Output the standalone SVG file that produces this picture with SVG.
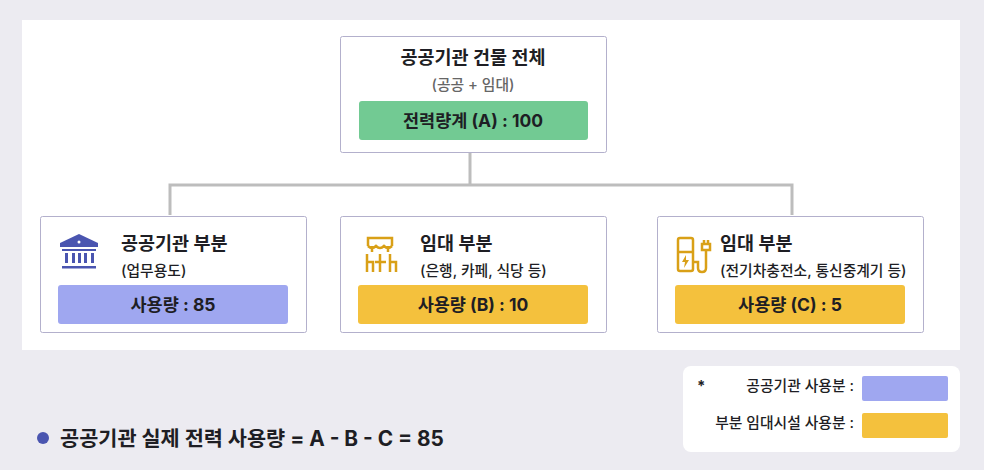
<svg xmlns="http://www.w3.org/2000/svg" width="984" height="470" viewBox="0 0 984 470">
<style>
text{font-family:Inter,"Noto Sans CJK KR","Noto Sans",sans-serif;fill:#1e1e24}
.t{font-size:18.5px;font-weight:700}
.s{font-size:14.8px;font-weight:500}
.b{font-size:17.5px;font-weight:700;text-anchor:middle}
.node{fill:#fff;stroke:#b3b0cc;stroke-width:1}
.conn{fill:none;stroke:#bdbdbd;stroke-width:3}
</style>
<rect width="984" height="470" fill="#ecebf1"/>
<rect x="22" y="20" width="938" height="330" fill="#fff"/>
<g id="connectors">
<path class="conn" d="M470 152V185M170 215V185H792V215"/>
</g>
<g id="top">
<rect class="node" x="340.5" y="36.5" width="266" height="116" rx="2"/>
<text class="t" x="473" y="64" text-anchor="middle">공공기관 건물 전체</text>
<text class="s" x="473" y="90" text-anchor="middle" style="fill:#666">(공공 + 임대)</text>
<rect x="359" y="101" width="229" height="39" rx="3" fill="#72ca93"/>
<text class="b" x="473" y="127">전력량계 (A) : 100</text>
</g>
<g id="public">
<rect class="node" x="40.5" y="216.5" width="266" height="116" rx="2"/>
<g fill="#4a55b0">
<path d="M79 234L60 243V247H98V243Z"/>
<circle cx="79" cy="242" r="1.5" fill="#fff"/>
<rect x="62" y="249" width="34" height="2"/>
<rect x="65" y="253" width="3" height="10"/><rect x="72" y="253" width="3" height="10"/><rect x="78" y="253" width="3" height="10"/><rect x="84" y="253" width="3" height="10"/><rect x="91" y="253" width="3" height="10"/>
<rect x="62" y="266" width="34" height="2.5"/>
</g>
<text class="t" x="121" y="250">공공기관 부분</text>
<text class="s" x="121" y="276">(업무용도)</text>
<rect x="58" y="285" width="230" height="39" rx="3" fill="#9fa7f0"/>
<text class="b" x="173" y="311">사용량 : 85</text>
</g>
<g id="rent1">
<rect class="node" x="340.5" y="216.5" width="266" height="116" rx="2"/>
<g fill="none" stroke="#d9a017" stroke-width="2.5">
<path d="M368 246V238H392V246M368 246q4 4 8 0q4 4 8 0q4 4 8 0M372 246V252M388 246V252M367 254V272M367 262H373V272M380 254V272M375 262H386M390 254V272M390 262H396V272"/>
</g>
<text class="t" x="420" y="250">임대 부분</text>
<text class="s" x="420" y="276">(은행, 카페, 식당 등)</text>
<rect x="358" y="285" width="230" height="39" rx="3" fill="#f4c13d"/>
<text class="b" x="473" y="311">사용량 (B) : 10</text>
</g>
<g id="rent2">
<rect class="node" x="657.5" y="216.5" width="266" height="116" rx="2"/>
<g fill="none" stroke="#d9a017" stroke-width="2.5">
<rect x="678" y="238" width="15" height="33" rx="2"/>
<path d="M678 252H693M693 262H698V268q0 4 4 4t4-4V250M702 244H710V250H702ZM704 240V244M708 240V244"/>
</g>
<path d="M686 255L682 262H685L684 268L689 260H686Z" fill="#d9a017"/>
<text class="t" x="720" y="250">임대 부분</text>
<text class="s" x="720" y="276">(전기차충전소, 통신중계기 등)</text>
<rect x="675" y="285" width="230" height="39" rx="3" fill="#f4c13d"/>
<text class="b" x="790" y="311">사용량 (C) : 5</text>
</g>
<g id="legend">
<rect x="683" y="366" width="277" height="86" rx="8" fill="#fff"/>
<text x="697" y="391" style="font-size:15px;font-weight:700">*</text>
<text class="s" x="854" y="391" text-anchor="end">공공기관 사용분 :</text>
<rect x="862" y="376" width="86" height="25" rx="2" fill="#9fa7f0"/>
<text class="s" x="854" y="428" text-anchor="end">부분 임대시설 사용분 :</text>
<rect x="862" y="413" width="86" height="25" rx="2" fill="#f4c13d"/>
</g>
<g id="note">
<circle cx="43" cy="438" r="6" fill="#4a55b0"/>
<text x="60" y="446" style="font-size:20.8px;font-weight:700">공공기관 실제 전력 사용량 = A - B - C = 85</text>
</g>
</svg>
